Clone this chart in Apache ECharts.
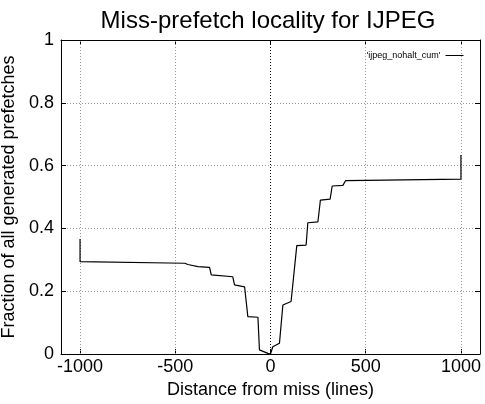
<!DOCTYPE html>
<html>
<head>
<meta charset="utf-8">
<script src="https://cdn.jsdelivr.net/npm/echarts@6/dist/echarts.min.js"></script>
<style>html,body{margin:0;padding:0;background:#fff;}#c{width:485px;height:404px;}</style>
</head>
<body>
<div id="c"></div>
<script>
var xValues = [-1000, -1000, -450, -434, -381, -320, -311, -198, -189, -136, -119, -66, -58, -14, 0, 12, 47, 65, 108, 138, 187, 196, 249, 262, 313, 324, 380, 394, 500, 1000, 1000];
var yValues = [0.366, 0.294, 0.289, 0.285, 0.278, 0.276, 0.252, 0.246, 0.220, 0.214, 0.119, 0.117, 0.013, 0.002, 0, 0.023, 0.034, 0.156, 0.167, 0.345, 0.347, 0.418, 0.421, 0.490, 0.493, 0.535, 0.537, 0.552, 0.553, 0.557, 0.634];
var xTicks = [-1000, -500, 0, 500, 1000];
var seriesName = "'ijpeg_nohalt_cum'";

var data = xValues.map(function (x, i) { return [x, yValues[i]]; });
var font = 'Liberation Sans, Arial, Helvetica, sans-serif';

var chart = echarts.init(document.getElementById('c'), null, {renderer: 'canvas'});
chart.setOption({
  animation: false,
  backgroundColor: '#fff',
  title: {
    text: 'Miss-prefetch locality for IJPEG',
    left: 263, top: 4, textAlign: 'center',
    textStyle: {fontFamily: font, fontSize: 24, fontWeight: 'normal', color: '#000'}
  },
  legend: {
    right: 16, top: 46, align: 'right', itemWidth: 18, itemHeight: 8, orient: 'horizontal',
    textStyle: {fontFamily: font, fontSize: 9, color: '#000'},
    itemStyle: {color: 'transparent', borderColor: 'transparent', borderWidth: 0, opacity: 0},
    lineStyle: {color: '#000', width: 1},
    data: [seriesName]
  },
  grid: {left: 61, right: 5, top: 40, bottom: 50, outerBoundsMode: 'none', containLabel: false},
  xAxis: [{
    type: 'value', min: -1100, max: 1100, position: 'bottom',
    name: 'Distance from miss (lines)', nameLocation: 'middle', nameGap: 17,
    nameTextStyle: {fontFamily: font, fontSize: 18, color: '#000'},
    axisLine: {show: true, onZero: false, lineStyle: {color: '#000', width: 1}},
    axisTick: {show: true, inside: true, length: 5, customValues: xTicks, lineStyle: {color: '#000'}},
    axisLabel: {show: true, customValues: xTicks, margin: 4, fontFamily: font, fontSize: 18, color: '#000',
      formatter: function (v) { return String(v); }},
    splitLine: {show: false}
  }, {
    type: 'value', min: -1100, max: 1100, position: 'top',
    axisLine: {show: true, onZero: false, lineStyle: {color: '#000', width: 1}},
    axisTick: {show: true, inside: true, length: 5, customValues: xTicks, lineStyle: {color: '#000'}},
    axisLabel: {show: false},
    splitLine: {show: false}
  }],
  yAxis: [{
    type: 'value', min: 0, max: 1, interval: 0.2, position: 'left',
    name: 'Fraction of all generated prefetches', nameLocation: 'middle', nameGap: 34,
    nameTextStyle: {fontFamily: font, fontSize: 18, color: '#000'},
    axisLine: {show: true, onZero: false, lineStyle: {color: '#000', width: 1}},
    axisTick: {show: true, inside: true, length: 5, lineStyle: {color: '#000'}},
    axisLabel: {show: true, margin: 7, fontFamily: font, fontSize: 18, color: '#000'},
    splitLine: {show: true, lineStyle: {color: '#999', type: [1, 2], width: 1}}
  }, {
    type: 'value', min: 0, max: 1, interval: 0.2, position: 'right',
    axisLine: {show: true, onZero: false, lineStyle: {color: '#000', width: 1}},
    axisTick: {show: true, inside: true, length: 5, lineStyle: {color: '#000'}},
    axisLabel: {show: false},
    splitLine: {show: false}
  }],
  series: [{
    name: seriesName,
    type: 'line',
    xAxisIndex: 0, yAxisIndex: 0,
    data: data,
    showSymbol: false, symbol: 'none',
    lineStyle: {color: '#000', width: 1.2},
    itemStyle: {color: '#000'},
    z: 5,
    markLine: {
      silent: true, symbol: 'none', label: {show: false},
      animation: false,
      data: [
        {xAxis: -1000, lineStyle: {color: '#999', type: [1, 2], width: 1}},
        {xAxis: -500, lineStyle: {color: '#999', type: [1, 2], width: 1}},
        {xAxis: 0, lineStyle: {color: '#000', type: [1, 2], width: 1}},
        {xAxis: 500, lineStyle: {color: '#999', type: [1, 2], width: 1}},
        {xAxis: 1000, lineStyle: {color: '#999', type: [1, 2], width: 1}}
      ]
    }
  }]
});
</script>
</body>
</html>
